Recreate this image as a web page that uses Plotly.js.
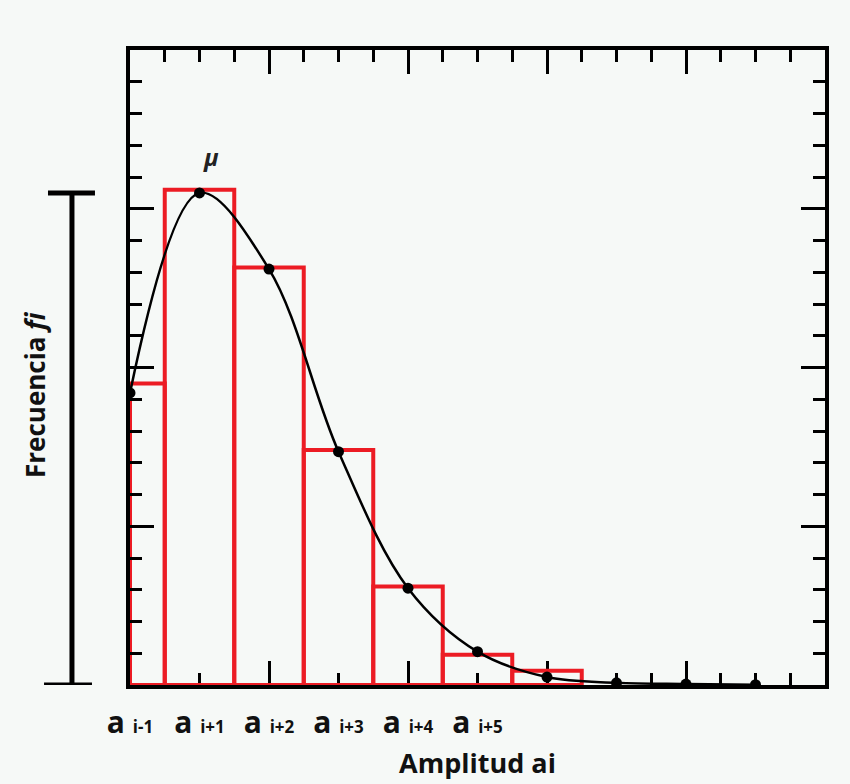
<!DOCTYPE html>
<html>
<head>
<meta charset="utf-8">
<script src="https://cdn.plot.ly/plotly-3.0.1.min.js"></script>
<style>html,body{margin:0;padding:0;background:#f6f9f7;}#chart{width:850px;height:784px;}</style>
</head>
<body>
<div id="chart"></div>
<script>
// ---- data ----
const binEdges   = [0, 1, 3, 5, 7, 9, 11, 13];
const binHeights = [9.5, 15.6, 13.15, 7.4, 3.1, 0.95, 0.45];
const pointX     = [0, 2, 4, 6, 8, 10, 12, 14, 16, 18];
const pointY     = [9.2, 15.5, 13.1, 7.35, 3.05, 1.05, 0.25, 0.07, 0.03, 0.01];
const labelX     = [0, 2, 4, 6, 8, 10];
const labelSub   = ["i-1", "i+1", "i+2", "i+3", "i+4", "i+5"];
const xTitle = "Amplitud ai";
const yTitle = "Frecuencia <i>fi</i>";
const peakLabel = "μ";

const binCenters = binEdges.slice(0, -1).map((e, i) => (e + binEdges[i + 1]) / 2);
const binWidths  = binEdges.slice(0, -1).map((e, i) => binEdges[i + 1] - e);
const tickText = labelSub.map(s => "<b>a</b> <b><span style='font-size:17px'>" + s + "</span></b>");
const peakIdx = pointY.indexOf(Math.max(...pointY));

const red = "#ec1c24";
const traces = [
  {type: "bar", x: binCenters, y: binHeights, width: binWidths,
   marker: {color: "rgba(0,0,0,0)", line: {color: red, width: 4}},
   hoverinfo: "x+y", showlegend: false},
  {type: "scatter", mode: "lines+markers", x: pointX, y: pointY,
   line: {color: "#000", width: 2.5, shape: "spline", smoothing: 1},
   marker: {color: "#000", size: 11}, cliponaxis: true, showlegend: false}
];
// invisible helper traces so every frame/label axis is drawn
[["x2", "y"], ["x3", "y"], ["x4", "y"], ["x5", "y"], ["x", "y2"], ["x", "y3"], ["x", "y4"]].forEach(p => {
  traces.push({type: "scatter", mode: "markers", x: [labelX[0]], y: [0], xaxis: p[0], yaxis: p[1],
    marker: {opacity: 0}, hoverinfo: "skip", showlegend: false});
});

function frameAxis(dtick, len, extra) {
  return Object.assign({
    range: [0, 20], dtick: dtick, tick0: 0, showgrid: false, zeroline: false, showline: true,
    linecolor: "#000", linewidth: 4, ticks: "inside", ticklen: len, tickwidth: 3, tickcolor: "#000",
    showticklabels: false, fixedrange: true
  }, extra);
}

const layout = {
  width: 850, height: 784,
  margin: {l: 130, r: 25, t: 50, b: 99},
  paper_bgcolor: "#f6f9f7", plot_bgcolor: "#f6f9f7",
  font: {family: "Open Sans, sans-serif", color: "#111"},
  bargap: 0,
  xaxis: frameAxis(4, 24, {
    layer: "below traces",
    title: {text: "<b>" + xTitle + "</b>", font: {size: 27, color: "#111"}, standoff: 67}
  }),
  xaxis2: {
    overlaying: "x", anchor: "y", side: "bottom", range: [0, 20],
    showgrid: false, zeroline: false, showline: false, ticks: "",
    tickmode: "array", tickvals: labelX, ticktext: tickText,
    tickfont: {size: 30, color: "#111", family: "Open Sans, sans-serif"},
    ticklabelstandoff: 17, fixedrange: true
  },
  xaxis3: frameAxis(4, 24, {overlaying: "x", anchor: "y", side: "top"}),
  xaxis4: frameAxis(1, 12, {overlaying: "x", anchor: "y", side: "bottom", layer: "below traces"}),
  xaxis5: frameAxis(1, 12, {overlaying: "x", anchor: "y", side: "top"}),
  yaxis:  frameAxis(5, 24, {side: "left"}),
  yaxis2: frameAxis(5, 24, {overlaying: "y", anchor: "x", side: "right"}),
  yaxis3: frameAxis(1, 12, {overlaying: "y", anchor: "x", side: "left"}),
  yaxis4: frameAxis(1, 12, {overlaying: "y", anchor: "x", side: "right"}),
  shapes: [
    {type: "line", xref: "paper", yref: "y", x0: -0.0835, x1: -0.0835, y0: 0, y1: pointY[peakIdx],
     line: {color: "#000", width: 5}},
    {type: "line", xref: "paper", yref: "y", x0: -0.1180, x1: -0.0504, y0: pointY[peakIdx], y1: pointY[peakIdx],
     line: {color: "#000", width: 5}},
    {type: "line", xref: "paper", yref: "y", x0: -0.1237, x1: -0.0547, y0: 0, y1: 0,
     line: {color: "#000", width: 5}}
  ],
  annotations: [
    {x: pointX[peakIdx], y: pointY[peakIdx], xref: "x", yref: "y", text: "<b><i>" + peakLabel + "</i></b>",
     showarrow: false, yshift: 36, xshift: 11, font: {size: 24, color: "#222"}},
    {x: -0.1367, y: 0.4567, xref: "paper", yref: "paper", xanchor: "center", yanchor: "middle",
     text: "<b>" + yTitle + "</b>", textangle: -90, showarrow: false,
     font: {size: 26, color: "#111"}}
  ]
};

Plotly.newPlot("chart", traces, layout, {displayModeBar: false, staticPlot: true});
</script>
</body>
</html>
